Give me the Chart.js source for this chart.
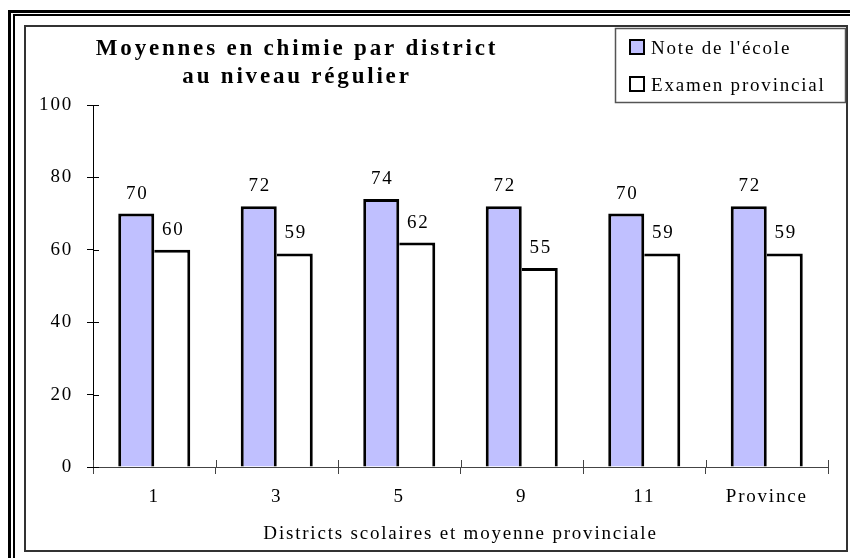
<!DOCTYPE html>
<html lang="fr">
<head>
    <meta charset="UTF-8">
    <title>Moyennes en chimie par district</title>
    <script src="https://cdn.jsdelivr.net/npm/chart.js"></script>
    <style>
        body {
            margin: 0;
            background: #fff;
            overflow: hidden;
            width: 850px;
            height: 558px;
            position: relative;
        }
        /* double cadre noir autour de l'image */
        .cadre1, .cadre2 {
            position: absolute;
            width: 2000px;
            height: 2000px;
        }
        .cadre1 { left: 8px; top: 10px; border-left: 3px solid #000; border-top: 3px solid #000; }
        .cadre2 { left: 13px; top: 14px; border-left: 2px solid #000; border-top: 2px solid #000; }
        /* cadre intérieur du graphique */
        .zone {
            position: absolute;
            left: 24px;
            top: 25px;
            width: 820px;
            height: 523px;
            border: 2px solid #333;
            background: #fff;
        }
        #graphique {
            position: absolute;
            left: 0;
            top: 0;
        }
    </style>
</head>
<body>
    <div class="cadre1"></div>
    <div class="cadre2"></div>
    <div class="zone"></div>
    <canvas id="graphique" width="850" height="558"></canvas>

    <script>
        // données
        const districts = ["1", "3", "5", "9", "11", "Province"];
        const noteEcole = [70, 72, 74, 72, 70, 72];
        const examenProvincial = [60, 59, 62, 55, 59, 59];
        const graduationsY = [0, 20, 40, 60, 80, 100];

        const titre = ["Moyennes en chimie par district", "au niveau régulier"];
        const titreAxeX = "Districts scolaires et moyenne provinciale";

        const police = "'Liberation Serif', 'Times New Roman', serif";
        const espacement = "1.8px";

        // espacement des lettres comme dans l'original
        const espaceLettres = {
            id: "espaceLettres",
            beforeLayout(chart) { chart.ctx.letterSpacing = espacement; },
            beforeDraw(chart) { chart.ctx.letterSpacing = espacement; }
        };

        // titre à deux lignes, légende encadrée, étiquettes de valeurs, petites marques croisées
        const decor = {
            id: "decor",
            afterDatasetsDraw(chart) {
                const ctx = chart.ctx;
                ctx.save();
                ctx.letterSpacing = espacement;
                ctx.fillStyle = "#000";
                ctx.font = "19px " + police;
                ctx.textAlign = "center";
                ctx.textBaseline = "alphabetic";
                chart.data.datasets.forEach((ds, i) => {
                    chart.getDatasetMeta(i).data.forEach((barre, j) => {
                        ctx.fillText(String(ds.data[j]), barre.x + 1, barre.y - 15);
                    });
                });
                ctx.restore();
            },
            afterDraw(chart) {
                const ctx = chart.ctx;
                const area = chart.chartArea;
                const y = chart.scales.y;
                const x = chart.scales.x;
                ctx.save();

                // moitié intérieure des marques de l'axe Y
                ctx.strokeStyle = "#000";
                ctx.lineWidth = 1;
                y.ticks.forEach((t, i) => {
                    const py = Math.round(y.getPixelForTick(i)) + 0.5;
                    ctx.beginPath();
                    ctx.moveTo(area.left, py);
                    ctx.lineTo(area.left + 6, py);
                    ctx.stroke();
                });
                // moitié intérieure des marques de l'axe X (entre les catégories)
                ctx.strokeStyle = "#444";
                for (let i = 0; i <= districts.length; i++) {
                    const px = Math.round(x.getPixelForValue(i - 0.5)) + 0.5;
                    ctx.beginPath();
                    ctx.moveTo(px, area.bottom);
                    ctx.lineTo(px, area.bottom - 7);
                    ctx.stroke();
                }

                // titre
                ctx.letterSpacing = "2.8px";
                ctx.fillStyle = "#000";
                ctx.font = "bold 23px " + police;
                ctx.textAlign = "center";
                ctx.textBaseline = "alphabetic";
                ctx.fillText(titre[0], 297, 55);
                ctx.fillText(titre[1], 297, 83);

                // légende
                ctx.letterSpacing = espacement;
                ctx.strokeStyle = "#555";
                ctx.lineWidth = 1.5;
                ctx.strokeRect(615.5, 28.5, 230, 74);
                ctx.font = "19px " + police;
                ctx.textAlign = "left";
                chart.data.datasets.forEach((ds, i) => {
                    const ly = 47 + i * 37;
                    ctx.fillStyle = ds.backgroundColor;
                    ctx.fillRect(630, ly - 7, 14, 14);
                    ctx.strokeStyle = "#000";
                    ctx.lineWidth = 2;
                    ctx.strokeRect(630, ly - 7, 14, 14);
                    ctx.fillStyle = "#000";
                    ctx.fillText(ds.label, 651, ly + 7);
                });
                ctx.restore();
            }
        };

        Chart.defaults.font.family = police;
        Chart.defaults.font.size = 19;
        Chart.defaults.color = "#000";

        new Chart(document.getElementById("graphique"), {
            type: "bar",
            data: {
                labels: districts,
                datasets: [{
                    label: "Note de l'école",
                    data: noteEcole,
                    backgroundColor: "#c0c0ff",
                    borderColor: "#000",
                    borderWidth: { top: 3, left: 3, right: 3, bottom: 0 }
                }, {
                    label: "Examen provincial",
                    data: examenProvincial,
                    backgroundColor: "#ffffff",
                    borderColor: "#000",
                    borderWidth: { top: 3, left: 0, right: 3, bottom: 0 }
                }]
            },
            options: {
                responsive: false,
                animation: false,
                layout: { padding: { left: 25, right: 22, top: 105, bottom: 7 } },
                datasets: {
                    bar: { categoryPercentage: 0.588, barPercentage: 1.0, borderSkipped: "start" }
                },
                plugins: {
                    legend: { display: false },
                    title: { display: false },
                    tooltip: { enabled: false }
                },
                scales: {
                    x: {
                        grid: { drawOnChartArea: false, tickLength: 7, color: "#444", offset: true },
                        border: { color: "#444", width: 1 },
                        ticks: { padding: 12 },
                        title: { display: true, text: titreAxeX, padding: { top: 0, bottom: 6 } },
                        afterFit(scale) { scale.height = 84; }
                    },
                    y: {
                        min: 0,
                        max: 100,
                        afterBuildTicks(scale) { scale.ticks = graduationsY.map(v => ({ value: v })); },
                        grid: { drawOnChartArea: false, tickLength: 6, color: "#000" },
                        border: { color: "#000", width: 1 },
                        ticks: { padding: 14 },
                        afterFit(scale) { scale.width = 68; }
                    }
                }
            },
            plugins: [espaceLettres, decor]
        });
    </script>
</body>
</html>
